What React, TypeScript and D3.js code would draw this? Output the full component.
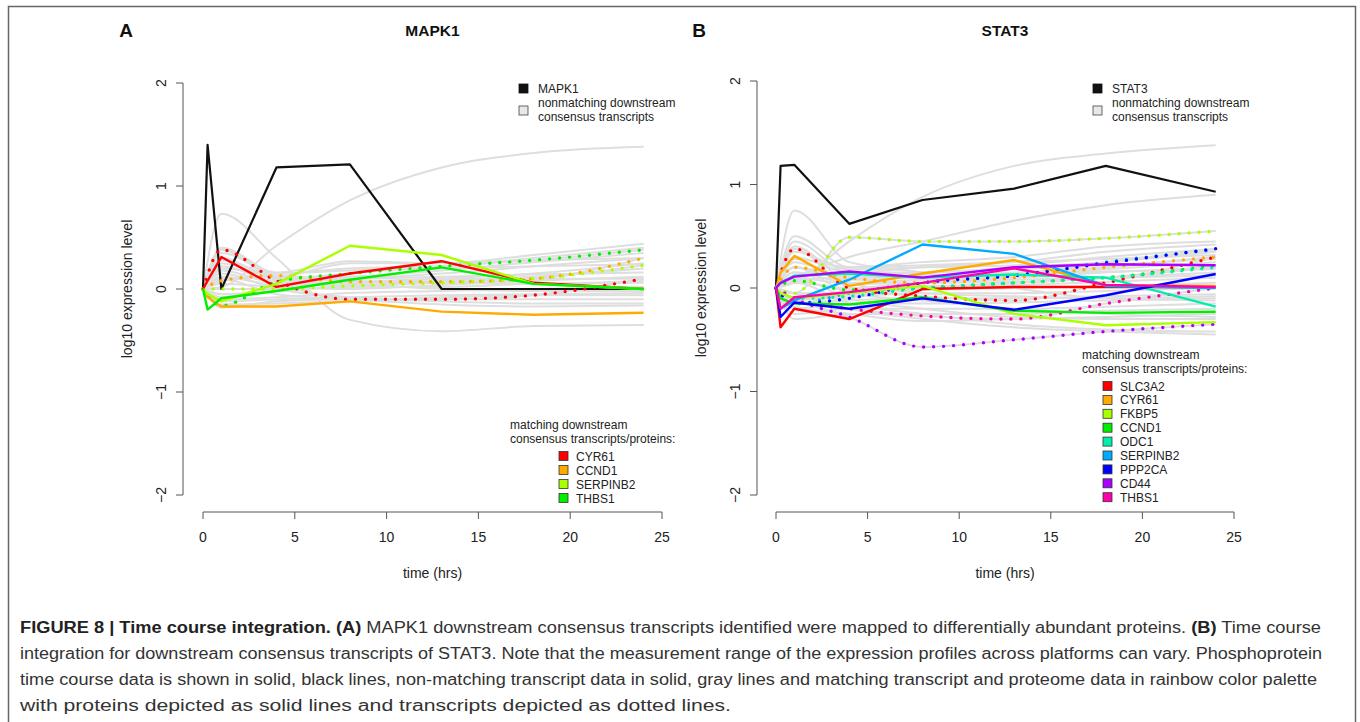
import React from "react";
import * as d3 from "d3";

// ---------- DATA ----------
const timeProtein = [0, 0.25, 1, 4, 8, 13, 18, 24];
const timeTranscript = [0, 1, 4, 8, 13, 18, 24];
const xTicks = [0, 5, 10, 15, 20, 25];
const yTicks = [-2, -1, 0, 1, 2];

// Panel A (MAPK1)
const mapk1Values = [0, 1.4, 0, 1.18, 1.21, 0, 0, 0];
const namesA = ["CYR61", "CCND1", "SERPINB2", "THBS1"];
const colorsA = ["#ff0000", "#ffaa00", "#aaff00", "#00ee00"];
const proteinA: (number[] | null)[] = [
  [0, 0.08, 0.31, 0.02, 0.15, 0.27, 0.06, 0.0],
  [0, -0.08, -0.17, -0.17, -0.12, -0.22, -0.25, -0.23],
  [0, -0.05, -0.12, 0.05, 0.42, 0.33, 0.05, 0.0],
  [0, -0.2, -0.09, -0.02, 0.09, 0.21, 0.05, 0.0],
];
const transcriptA: (number[] | null)[] = [
  [0, 0.38, 0.08, -0.1, -0.1, -0.06, 0.1],
  [0, 0.08, 0.13, 0.07, 0.07, 0.1, 0.3],
  [0, 0.0, 0.0, 0.03, 0.06, 0.1, 0.23],
  [0, -0.16, 0.07, 0.15, 0.22, 0.28, 0.38],
];
const grayA = [
  [0, 0.02, 0.42, 0.86, 1.18, 1.32, 1.38],
  [0, 0.73, 0.3, -0.3, -0.41, -0.36, -0.35],
  [0, 0.38, 0.12, 0.25, 0.25, 0.33, 0.44],
  [0, 0.35, 0.15, 0.2, 0.22, 0.3, 0.4],
  [0, 0.3, 0.1, 0.12, 0.18, 0.26, 0.35],
  [0, 0.22, 0.08, 0.1, 0.15, 0.22, 0.3],
  [0, 0.18, 0.06, 0.06, 0.1, 0.15, 0.25],
  [0, 0.12, 0.04, 0.04, 0.08, 0.12, 0.2],
  [0, 0.08, 0.12, 0.1, 0.12, 0.14, 0.16],
  [0, 0.05, 0.02, 0.0, 0.04, 0.08, 0.12],
  [0, -0.05, -0.02, 0.02, 0.02, 0.05, 0.06],
  [0, -0.1, -0.08, -0.04, -0.02, 0.0, 0.02],
  [0, -0.12, -0.1, -0.08, -0.06, -0.05, -0.04],
  [0, -0.18, -0.12, -0.1, -0.1, -0.1, -0.1],
  [0, 0.15, 0.0, -0.08, -0.12, -0.14, -0.14],
  [0, 0.1, -0.05, -0.1, -0.15, -0.17, -0.16],
  [0, 0.25, 0.1, 0.05, 0.0, -0.02, -0.02],
  [0, 0.28, 0.12, 0.08, 0.06, 0.05, 0.08],
  [0, -0.08, 0.03, 0.06, 0.1, 0.1, 0.1],
  [0, 0.4, 0.16, 0.27, 0.25, 0.28, 0.3],
  [0, 0.2, 0.15, 0.18, 0.2, 0.22, 0.24],
  [0, -0.15, -0.14, -0.12, -0.08, -0.06, -0.06],
];

// Panel B (STAT3)
const stat3Values = [0, 1.18, 1.19, 0.62, 0.85, 0.96, 1.18, 0.93];
const namesB = ["SLC3A2", "CYR61", "FKBP5", "CCND1", "ODC1", "SERPINB2", "PPP2CA", "CD44", "THBS1"];
const colorsB = ["#ff0000", "#ffaa00", "#aaff00", "#00ee00", "#00eeaa", "#00aaff", "#0000ff", "#aa00ff", "#ff00aa"];
const proteinB: (number[] | null)[] = [
  [0, -0.38, -0.2, -0.3, -0.01, 0.01, 0.01, 0.01],
  [0, 0.15, 0.31, 0.02, 0.14, 0.27, 0.03, 0.02],
  [0, -0.05, -0.1, -0.05, 0.02, -0.25, -0.36, -0.33],
  [0, -0.1, -0.15, -0.16, -0.09, -0.22, -0.24, -0.23],
  [0, 0.05, 0.12, 0.14, 0.1, 0.13, 0.1, -0.18],
  [0, -0.2, -0.12, 0.08, 0.42, 0.33, 0.02, 0.0],
  [0, -0.28, -0.14, -0.2, -0.1, -0.21, -0.07, 0.135],
  [0, 0.05, 0.11, 0.16, 0.1, 0.2, 0.23, 0.22],
  [0, -0.2, -0.09, -0.04, 0.05, 0.19, 0.03, 0.01],
];
const transcriptB: (number[] | null)[] = [
  [0, 0.38, 0.0, -0.08, -0.12, 0.05, 0.3],
  [0, 0.2, 0.1, 0.05, 0.1, 0.2, 0.3],
  [0, -0.05, 0.49, 0.45, 0.45, 0.48, 0.55],
  [0, 0.07, -0.02, 0.0, 0.05, 0.1, 0.22],
  [0, -0.1, -0.08, 0.0, 0.05, 0.1, 0.2],
  [0, -0.15, -0.05, 0.05, 0.12, 0.25, 0.37],
  [0, -0.15, -0.1, 0.05, 0.12, 0.24, 0.38],
  [0, -0.1, -0.28, -0.57, -0.5, -0.42, -0.35],
  [0, -0.12, -0.2, -0.27, -0.3, -0.15, 0.0],
];
const grayB = [
  [0, 0.05, 0.45, 0.88, 1.18, 1.3, 1.38],
  [0, 0.1, 0.3, 0.45, 0.65, 0.8, 0.9],
  [0, 0.75, 0.25, 0.15, 0.0, -0.1, -0.12],
  [0, 0.5, 0.2, 0.25, 0.3, 0.4, 0.45],
  [0, 0.45, 0.15, 0.2, 0.25, 0.35, 0.42],
  [0, 0.35, 0.18, 0.2, 0.22, 0.3, 0.38],
  [0, 0.3, 0.15, 0.15, 0.2, 0.25, 0.35],
  [0, 0.25, 0.1, 0.12, 0.15, 0.2, 0.3],
  [0, 0.2, 0.08, 0.1, 0.12, 0.18, 0.25],
  [0, 0.15, 0.05, 0.08, 0.1, 0.15, 0.2],
  [0, 0.1, 0.04, 0.05, 0.06, 0.1, 0.15],
  [0, 0.05, 0.0, 0.02, 0.03, 0.06, 0.1],
  [0, -0.05, -0.05, -0.02, 0.0, 0.02, 0.05],
  [0, -0.1, -0.08, -0.05, -0.05, -0.03, 0.0],
  [0, -0.15, -0.12, -0.1, -0.1, -0.08, -0.06],
  [0, -0.2, -0.15, -0.15, -0.14, -0.12, -0.1],
  [0, -0.25, -0.2, -0.2, -0.2, -0.18, -0.15],
  [0, -0.3, -0.25, -0.25, -0.25, -0.22, -0.2],
  [0, 0.1, -0.1, -0.2, -0.28, -0.3, -0.3],
  [0, 0.05, -0.15, -0.25, -0.35, -0.4, -0.42],
  [0, -0.05, -0.2, -0.3, -0.38, -0.42, -0.45],
  [0, 0.2, -0.05, -0.12, -0.2, -0.25, -0.28],
  [0, 0.15, 0.12, 0.15, 0.18, 0.22, 0.28],
  [0, 0.08, 0.1, 0.12, 0.14, 0.16, 0.18],
  [0, -0.12, -0.02, 0.05, 0.08, 0.1, 0.12],
  [0, 0.28, 0.2, 0.22, 0.25, 0.28, 0.32],
  [0, -0.18, -0.25, -0.32, -0.3, -0.28, -0.25],
  [0, 0.4, 0.05, -0.05, -0.08, -0.1, -0.08],
];

const captionLines = [
  [
    { t: "FIGURE 8 | Time course integration. (A)", b: true },
    { t: " MAPK1 downstream consensus transcripts identified were mapped to differentially abundant proteins. ", b: false },
    { t: "(B)", b: true },
    { t: " Time course", b: false },
  ],
  [{ t: "integration for downstream consensus transcripts of STAT3. Note that the measurement range of the expression profiles across platforms can vary. Phosphoprotein", b: false }],
  [{ t: "time course data is shown in solid, black lines, non-matching transcript data in solid, gray lines and matching transcript and proteome data in rainbow color palette", b: false }],
  [{ t: "with proteins depicted as solid lines and transcripts depicted as dotted lines.", b: false }],
];
const captionWidths = [1301, 1302, 1297, 711];

// ---------- COMPONENTS ----------
const FONT = "'Liberation Sans', Arial, Helvetica, sans-serif";
const GRAY = "#dedede";

type PanelProps = {
  letter: string;
  title: string;
  x0: number;
  x1: number;
  yTop: number;
  yBot: number;
  axisX: number;
  axisY: number;
  mainName: string;
  mainValues: number[];
  names: string[];
  colors: string[];
  proteins: (number[] | null)[];
  transcripts: (number[] | null)[];
  grays: number[][];
  topLegendX: number;
  botLegendX: number;
  botLegendY: number;
  botItemX: number;
  botStep: number;
};

function Panel(p: PanelProps) {
  const x = d3.scaleLinear().domain([0, 25]).range([p.x0, p.x1]);
  const y = d3.scaleLinear().domain([-2, 2]).range([p.yBot, p.yTop]);
  const lineP = d3
    .line<number>()
    .x((_, i) => x(timeProtein[i]))
    .y((v) => y(v));
  const lineT = d3
    .line<number>()
    .x((_, i) => x(timeTranscript[i]))
    .y((v) => y(v))
    .curve(d3.curveMonotoneX);
  const cx = (p.x0 + p.x1) / 2;
  const cy = y(0);
  return (
    <g fontFamily={FONT}>
      <text x={p.x0 - 77} y={37} fontSize={19} fontWeight="bold" fill="#111" textAnchor="middle">
        {p.letter}
      </text>
      <text x={cx} y={36} fontSize={15.5} fontWeight="bold" textAnchor="middle" fill="#111">
        {p.title}
      </text>
      {/* gray lines */}
      <g fill="none" stroke={GRAY} strokeWidth={2}>
        {p.grays.map((g, i) => (
          <path key={"g" + i} d={lineT(g) || ""} />
        ))}
        {p.transcripts.map((g, i) => (g ? <path key={"gt" + i} d={lineT(g) || ""} /> : null))}
      </g>
      {/* main phosphoprotein */}
      <path d={lineP(p.mainValues) || ""} fill="none" stroke="#111" strokeWidth={2.2} strokeLinejoin="round" />
      {/* transcripts dotted */}
      <g fill="none" strokeWidth={3.4} strokeLinecap="round" strokeDasharray="0 10">
        {p.transcripts.map((g, i) =>
          g ? <path key={"t" + i} d={lineT(g) || ""} stroke={p.colors[i]} /> : null
        )}
      </g>
      {/* proteins solid */}
      <g fill="none" strokeWidth={2.4} strokeLinejoin="round">
        {p.proteins.map((g, i) =>
          g ? <path key={"p" + i} d={lineP(g) || ""} stroke={p.colors[i]} /> : null
        )}
      </g>
      {/* y axis */}
      <g stroke="#555" strokeWidth={1}>
        <line x1={p.axisX} x2={p.axisX} y1={y(-2)} y2={y(2)} />
        {yTicks.map((t) => (
          <line key={t} x1={p.axisX - 7} x2={p.axisX} y1={y(t)} y2={y(t)} />
        ))}
      </g>
      {yTicks.map((t) => (
        <text
          key={"yl" + t}
          transform={`translate(${p.axisX - 22},${y(t)}) rotate(-90)`}
          textAnchor="middle"
          dy="0.35em"
          fontSize={14}
          fill="#222"
        >
          {t < 0 ? "\u2212" + Math.abs(t) : String(t)}
        </text>
      ))}
      <text
        transform={`translate(${p.axisX - 56},${cy}) rotate(-90)`}
        textAnchor="middle"
        dy="0.35em"
        fontSize={14}
        fill="#222"
      >
        log10 expression level
      </text>
      {/* x axis */}
      <g stroke="#555" strokeWidth={1}>
        <line x1={x(0)} x2={x(25)} y1={p.axisY} y2={p.axisY} />
        {xTicks.map((t) => (
          <line key={t} x1={x(t)} x2={x(t)} y1={p.axisY} y2={p.axisY + 7} />
        ))}
      </g>
      {xTicks.map((t) => (
        <text key={"xl" + t} x={x(t)} y={p.axisY + 30} textAnchor="middle" fontSize={14} fill="#222">
          {t}
        </text>
      ))}
      <text x={cx} y={p.axisY + 66} textAnchor="middle" fontSize={14} fill="#222">
        time (hrs)
      </text>
      {/* top legend */}
      <g fontSize={12} fill="#222">
        <rect x={p.topLegendX} y={84} width={9} height={9} fill="#111" stroke="#111" strokeWidth={0.8} />
        <text x={p.topLegendX + 19} y={93}>
          {p.mainName}
        </text>
        <rect x={p.topLegendX} y={106} width={9} height={9} fill="#e8e8e8" stroke="#444" strokeWidth={0.8} />
        <text x={p.topLegendX + 19} y={107}>
          nonmatching downstream
        </text>
        <text x={p.topLegendX + 19} y={121}>
          consensus transcripts
        </text>
      </g>
      {/* bottom legend */}
      <g fontSize={12} fill="#222">
        <text x={p.botLegendX} y={p.botLegendY}>
          matching downstream
        </text>
        <text x={p.botLegendX} y={p.botLegendY + 14}>
          consensus transcripts/proteins:
        </text>
        {p.names.map((n, i) => {
          const yc = p.botLegendY + 27 + i * p.botStep;
          return (
            <g key={n}>
              <rect x={p.botItemX} y={yc - 4.5} width={9} height={9} fill={p.colors[i]} stroke="#333" strokeWidth={0.8} />
              <text x={p.botItemX + 17} y={yc + 4.5}>
                {n}
              </text>
            </g>
          );
        })}
      </g>
    </g>
  );
}

export default function App() {
  return (
    <svg
      width={1360}
      height={722}
      style={{ position: "absolute", left: 0, top: 0, background: "#fff" }}
    >
      <rect x={0} y={0} width={1360} height={722} fill="#fff" />
      <rect x={8.5} y={6.5} width={1347} height={730} fill="none" stroke="#666" strokeWidth={1.5} />
      <Panel
        letter="A"
        title="MAPK1"
        x0={203}
        x1={662}
        yTop={83}
        yBot={495}
        axisX={183}
        axisY={512}
        mainName="MAPK1"
        mainValues={mapk1Values}
        names={namesA}
        colors={colorsA}
        proteins={proteinA}
        transcripts={transcriptA}
        grays={grayA}
        topLegendX={519}
        botLegendX={510}
        botLegendY={429}
        botItemX={559}
        botStep={14}
      />
      <Panel
        letter="B"
        title="STAT3"
        x0={776}
        x1={1234}
        yTop={81}
        yBot={495}
        axisX={757}
        axisY={512}
        mainName="STAT3"
        mainValues={stat3Values}
        names={namesB}
        colors={colorsB}
        proteins={proteinB}
        transcripts={transcriptB}
        grays={grayB}
        topLegendX={1093}
        botLegendX={1082}
        botLegendY={359}
        botItemX={1103}
        botStep={13.9}
      />
      <g fontFamily={FONT} fontSize={16} fill="#333">
        {captionLines.map((ln, i) => (
          <text
            key={i}
            x={20}
            y={633 + i * 26}
            textLength={captionWidths[i]}
            lengthAdjust="spacingAndGlyphs"
          >
            {ln.map((s, j) => (
              <tspan key={j} fontWeight={s.b ? "bold" : "normal"} fill={s.b ? "#222" : "#333"}>
                {s.t}
              </tspan>
            ))}
          </text>
        ))}
      </g>
    </svg>
  );
}
